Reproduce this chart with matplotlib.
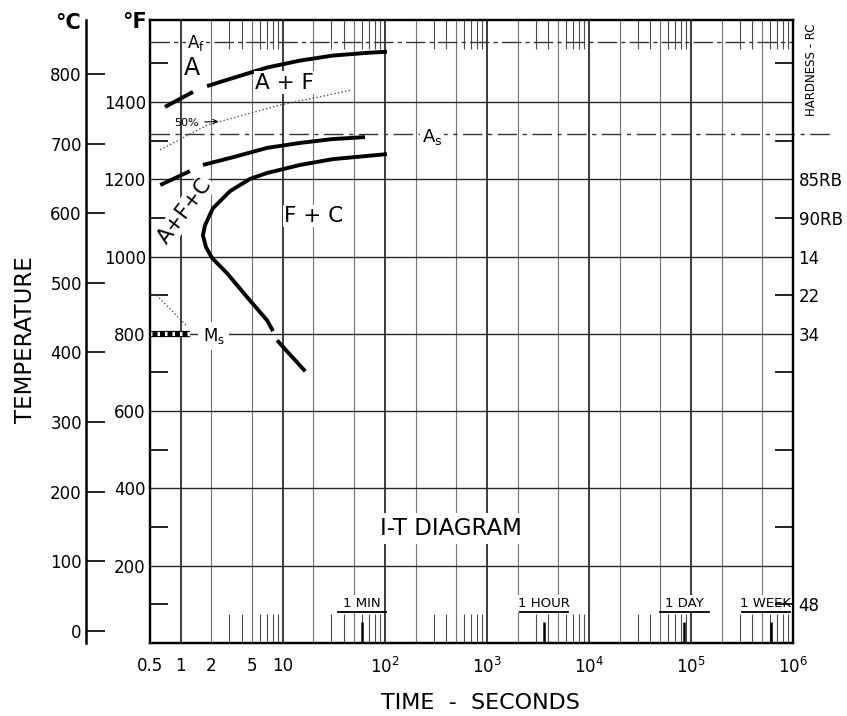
import numpy as np
import matplotlib.pyplot as plt
from matplotlib.ticker import FixedLocator, NullFormatter

plt.rcParams['font.family'] = ['DejaVu Sans']

# ---------------------------------------------------------
# Data: time in seconds, temperature in deg F
# ---------------------------------------------------------
ferrite_start_a_t = [0.70, 1.32]
ferrite_start_a_f = [1387, 1426]
ferrite_start_b_t = [1.81, 3.26, 7.0, 14.8, 31, 67, 105]
ferrite_start_b_f = [1441, 1462, 1489, 1507, 1520, 1527, 1530]

half_t = [0.63, 1.81, 9.4, 48]
half_f = [1276, 1340, 1392, 1431]

carbide_start_a_t = [0.63, 1.23]
carbide_start_a_f = [1185, 1221]
carbide_start_b_t = [1.65, 3.26, 7.0, 14.8, 31, 64]
carbide_start_b_f = [1237, 1257, 1281, 1294, 1304, 1309]

finish_a_t = [105, 31, 14.8, 7.0, 4.78, 3.04, 2.07, 1.73, 1.65, 1.77, 2.03, 2.84, 4.47, 7.01, 8.03]
finish_a_f = [1265, 1252, 1237, 1216, 1201, 1169, 1125, 1081, 1055, 1024, 996, 957, 895, 835, 807]
finish_b_t = [8.8, 16.6]
finish_b_f = [783, 703]

ms_t = [0.5, 1.23]
ms_f = [800, 800]
ms_lead_t = [0.58, 1.15]
ms_lead_f = [900, 820]

af_temp = 1555
as_temp = 1317

hardness_f = [1200, 1100, 1000, 900, 800, 100]
hardness_labels = ['85RB', '90RB', '14', '22', '34', '48']

time_ticks = [0.5, 1, 2, 5, 10, 1e2, 1e3, 1e4, 1e5, 1e6]
time_labels = ['0.5', '1', '2', '5', '10', r'$\mathregular{10^2}$', r'$\mathregular{10^3}$',
               r'$\mathregular{10^4}$', r'$\mathregular{10^5}$', r'$\mathregular{10^6}$']
time_marks = [60, 3600, 86400, 604800]
time_mark_labels = ['1 MIN', '1 HOUR', '1 DAY', '1 WEEK']

temp_f_ticks = [200, 400, 600, 800, 1000, 1200, 1400]
temp_c_ticks = [0, 100, 200, 300, 400, 500, 600, 700, 800]

# ---------------------------------------------------------
fig = plt.figure(figsize=(8.47, 7.16), dpi=100)
ax = fig.add_axes([150 / 847, 1 - 643 / 716, 643 / 847, 623 / 716])
ax.set_xscale('log')
ax.set_xlim(0.5, 1e6)
ax.set_ylim(0, 1612)

# grid: decades heavy, 2 and 5 lighter
for n in range(0, 6):
    ax.axvline(10 ** n, color='0.1', lw=1.2, zorder=1)
    ax.axvline(2 * 10 ** n, color='0.45', lw=0.8, zorder=1)
    ax.axvline(5 * 10 ** n, color='0.45', lw=0.8, zorder=1)
for tf in temp_f_ticks:
    ax.axhline(tf, color='0.15', lw=1.0, zorder=1)

# critical temperature lines
ax.plot([0.5, 1e6], [af_temp, af_temp], color='0.2', lw=1.0, ls=(0, (14, 3, 3, 3)), zorder=2)
ax.plot([0, 1.06], [as_temp, as_temp], color='0.2', lw=1.0, ls=(0, (14, 4, 3, 4)),
        transform=ax.get_yaxis_transform(), clip_on=False, zorder=2)

# transformation curves
lw = 2.8
for t, f in [(ferrite_start_a_t, ferrite_start_a_f), (ferrite_start_b_t, ferrite_start_b_f),
             (carbide_start_a_t, carbide_start_a_f), (carbide_start_b_t, carbide_start_b_f),
             (finish_a_t, finish_a_f), (finish_b_t, finish_b_f)]:
    ax.plot(t, f, color='k', lw=lw, solid_capstyle='butt', zorder=4)
ax.plot(half_t, half_f, color='0.3', lw=1.0, ls=':', zorder=3)
ax.plot(ms_t, ms_f, color='k', lw=4.5, solid_capstyle='butt', zorder=4)
ax.plot(ms_t, ms_f, color='w', lw=3, ls=(0, (0.6, 1.2)), zorder=5)
ax.plot(ms_lead_t, ms_lead_f, color='0.3', lw=1.0, ls=':', zorder=3)

# time markers along the bottom
ax.vlines(time_marks, 0, 55, color='k', lw=1.8, zorder=3)
for tm, lab in zip(time_marks, time_mark_labels):
    tx = tm / 1.12 if lab == '1 WEEK' else tm
    ax.text(tx, 102, lab, ha='center', va='center', fontsize=9.5,
            bbox=dict(facecolor='white', edgecolor='none', pad=1.5), zorder=6)
    ax.plot([tx / 1.72, tx * 1.72], [80, 80], color='k', lw=1.3, zorder=6)

# region labels
box = dict(facecolor='white', edgecolor='none', pad=1.0)
ax.text(1.41, 1553, r'$\mathregular{A_f}$', fontsize=12, ha='center', va='center', bbox=box, zorder=6)
ax.text(1.3, 1488, 'A', fontsize=17, ha='center', va='center', zorder=6)
ax.text(10.5, 1450, 'A + F', fontsize=15.5, ha='center', va='center', bbox=box, zorder=6)
ax.text(20, 1105, 'F + C', fontsize=15.5, ha='center', va='center', bbox=box, zorder=6)
ax.text(1.1, 1118, 'A+F+C', fontsize=15, ha='center', va='center', rotation=53,
        bbox=box, zorder=6)
ax.text(289, 1310, r'$\mathregular{A_s}$', fontsize=13, ha='center', va='center', bbox=box, zorder=6)
ax.text(2.1, 794, r'$\mathregular{M_s}$', fontsize=12, ha='center', va='center',
        bbox=dict(facecolor='white', edgecolor='none', pad=3), zorder=6)
ax.annotate('50%', xy=(2.5, 1350), xytext=(1.15, 1346), fontsize=8, ha='center', va='center',
            arrowprops=dict(arrowstyle='->', lw=0.8, color='k'), zorder=6)
ax.text(446, 296, 'I-T DIAGRAM', fontsize=16.5, ha='center', va='center',
        bbox=dict(facecolor='white', edgecolor='none', pad=3), zorder=6)

# x ticks
ax.set_xticks(time_ticks)
ax.set_xticklabels(time_labels)
ax.xaxis.set_minor_locator(FixedLocator([m * 10 ** n for n in range(0, 6) for m in (3, 4, 6, 7, 8, 9)]))
ax.xaxis.set_minor_formatter(NullFormatter())
ax.tick_params(axis='x', which='major', length=0, pad=10, labelsize=12)
ax.tick_params(axis='x', which='minor', direction='in', length=21, width=0.8,
               top=True, bottom=True, color='0.3')

# y ticks (deg F)
ax.set_yticks(temp_f_ticks)
ax.yaxis.set_minor_locator(FixedLocator(list(range(100, 1600, 200))))
ax.tick_params(axis='y', which='major', length=0, pad=3, labelsize=12)
ax.tick_params(axis='y', which='minor', direction='in', length=13, width=1.2, left=True, right=False)

for s in ax.spines.values():
    s.set_linewidth(1.6)

# right hardness axis
rax = ax.twinx()
rax.set_ylim(ax.get_ylim())
rax.set_yticks(hardness_f)
rax.set_yticklabels(hardness_labels)
rax.yaxis.set_minor_locator(FixedLocator(list(range(100, 1600, 200))))
rax.yaxis.remove_overlapping_locs = False
rax.tick_params(axis='y', which='major', length=0, pad=4, labelsize=12)
rax.tick_params(axis='y', which='minor', direction='in', length=13, width=1.2)
for s in rax.spines.values():
    s.set_linewidth(1.6)
ax.text(1.028, 0.92, 'HARDNESS - RC', rotation=90, fontsize=8.5, ha='center', va='center',
        transform=ax.transAxes)

# deg C axis
cax = ax.secondary_yaxis(-0.0995, functions=(lambda f: (f - 32) * 5 / 9, lambda c: c * 9 / 5 + 32))
cax.set_yticks(temp_c_ticks)
cax.tick_params(direction='in', length=14, width=1.2, labelsize=12, pad=3)
cax.spines['left'].set_linewidth(1.8)

fig.text(68 / 847, 1 - 23 / 716, '°C', fontsize=15, fontweight='bold', ha='center', va='center')
fig.text(135 / 847, 1 - 22 / 716, '°F', fontsize=15, fontweight='bold', ha='center', va='center')
fig.text(25 / 847, 1 - 340 / 716, 'TEMPERATURE', fontsize=16.5, rotation=90, ha='center', va='center')
fig.text(480 / 847, 1 - 703 / 716, 'TIME  -  SECONDS', fontsize=16, ha='center', va='center')

fig.savefig('out.png', dpi=100)
